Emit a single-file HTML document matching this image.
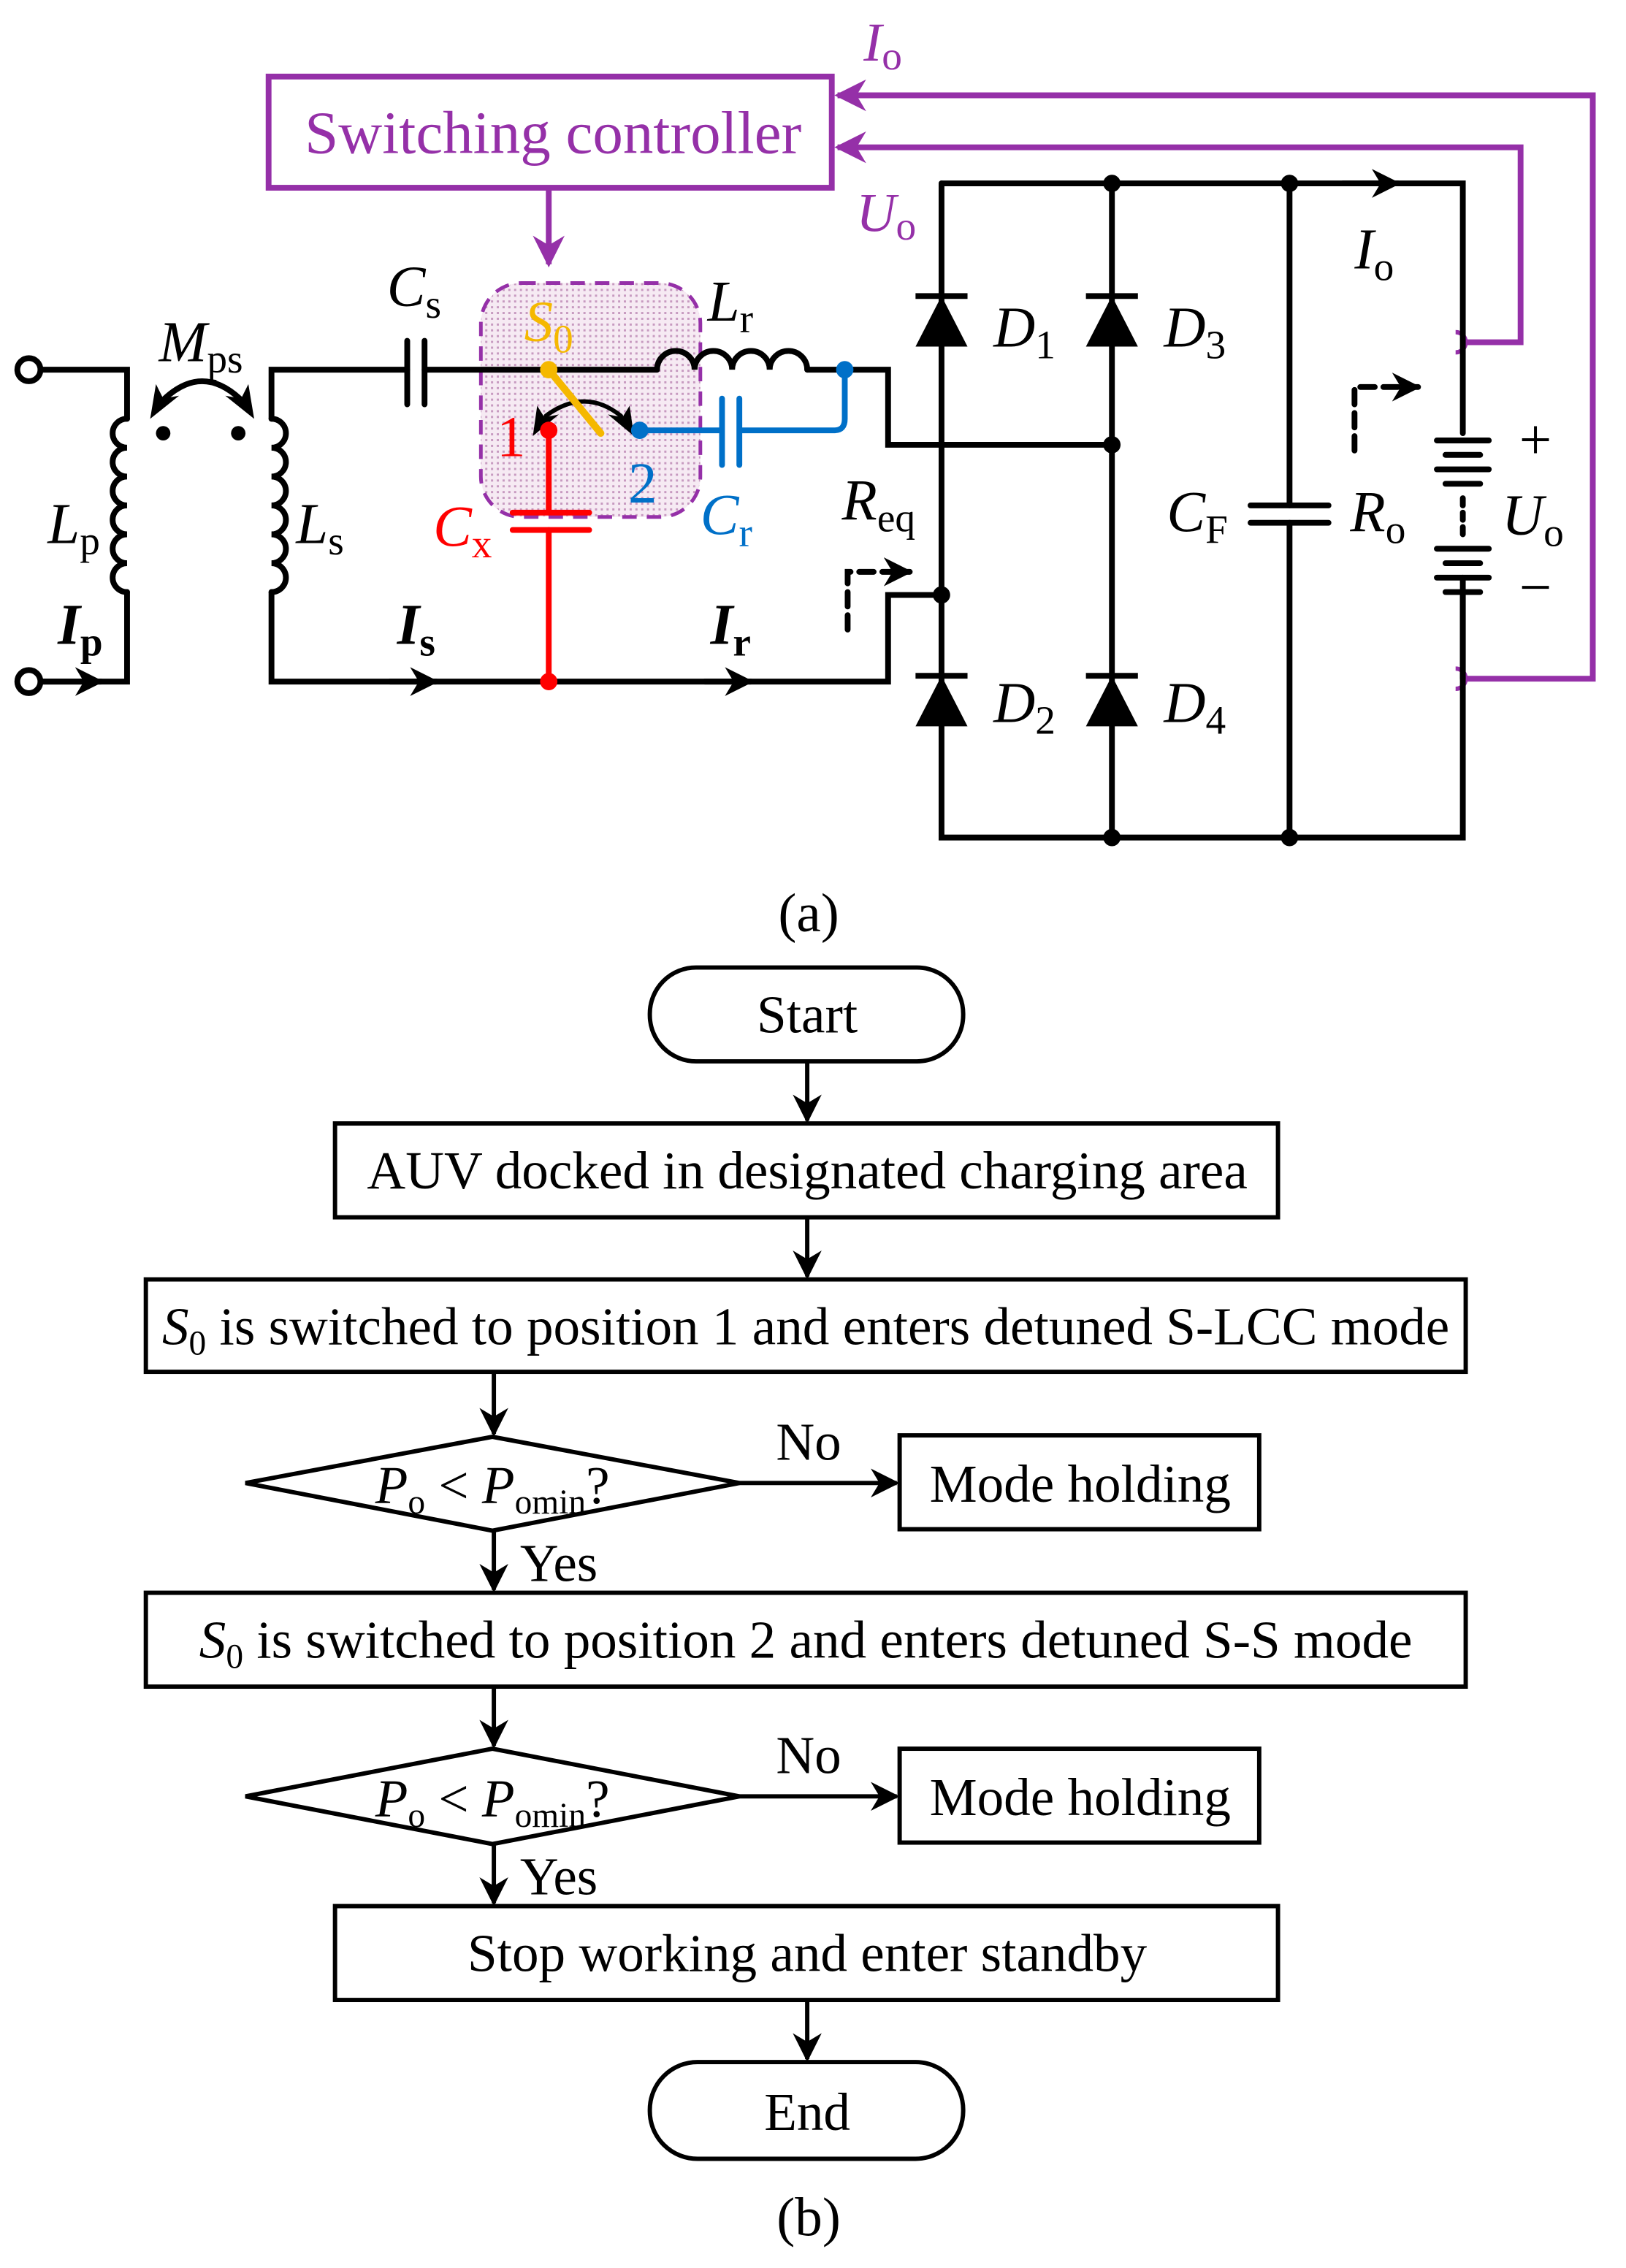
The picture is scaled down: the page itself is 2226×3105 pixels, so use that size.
<!DOCTYPE html>
<html><head><meta charset="utf-8"><style>
html,body{margin:0;padding:0;background:#fff;}
svg{display:block;}
text{font-family:"Liberation Serif",serif;}
</style></head><body>
<svg width="2226" height="3105" viewBox="0 0 1126 1570.6" xmlns="http://www.w3.org/2000/svg">
<defs>
<marker id="ab" viewBox="0 0 10 10" refX="9" refY="5" markerWidth="20" markerHeight="20" orient="auto" markerUnits="userSpaceOnUse"><path d="M0,0 L10,5 L0,10 L3,5z" fill="#000"/></marker>
<marker id="ap" viewBox="0 0 10 10" refX="9" refY="5" markerWidth="22" markerHeight="22" orient="auto" markerUnits="userSpaceOnUse"><path d="M0,0 L10,5 L0,10 L3,5z" fill="#9530A8"/></marker>
<pattern id="dots" width="4" height="4" patternUnits="userSpaceOnUse"><rect width="4" height="4" fill="#f6eaf3"/><rect width="1.5" height="1.5" fill="#c79ac0"/></pattern>
</defs>

<!-- ===== (a) circuit ===== -->
<g stroke="#9530A8" stroke-width="4" fill="none">
<rect x="186" y="53" width="390" height="77" fill="#fff"/>
<path d="M1015,470 L1103,470 L1103,66 L580,66" marker-end="url(#ap)"/>
<path d="M1015,237 L1053,237 L1053,102 L580,102" marker-end="url(#ap)"/>
<path d="M380,130 L380,183" marker-end="url(#ap)"/>
<path d="M1008,230 a7,7 0 0 1 0,14 M1008,463 a7,7 0 0 1 0,14" stroke-width="3"/>
</g>
<rect x="333" y="196" width="152" height="162" rx="28" fill="url(#dots)" stroke="#9530A8" stroke-width="2.5" stroke-dasharray="10,7"/>
<text x="383" y="106" font-size="42" fill="#9530A8" text-anchor="middle">Switching controller</text>
<text x="598" y="42" font-size="38" fill="#9530A8" font-style="italic">I<tspan font-size="28" font-style="normal" dy="6">o</tspan></text>
<text x="593" y="160" font-size="38" fill="#9530A8" font-style="italic">U<tspan font-size="28" font-style="normal" dy="6">o</tspan></text>

<g stroke="#000" stroke-width="4" fill="none" stroke-linecap="round">
<path d="M28,256 L88,256 L88,290"/>
<path d="M88,290 a10,10 0 0 0 0,20 a10,10 0 0 0 0,20 a10,10 0 0 0 0,20 a10,10 0 0 0 0,20 a10,10 0 0 0 0,20 a10,10 0 0 0 0,20"/>
<path d="M88,410 L88,472 L28,472"/>
<path d="M282,256 L188,256 L188,290"/>
<path d="M188,290 a10,10 0 0 1 0,20 a10,10 0 0 1 0,20 a10,10 0 0 1 0,20 a10,10 0 0 1 0,20 a10,10 0 0 1 0,20 a10,10 0 0 1 0,20"/>
<path d="M188,410 L188,472 L615,472 L615,412 L652,412"/>
<path d="M282,236 L282,280 M294,236 L294,280"/>
<path d="M294,256 L455,256"/>
<path d="M455,256 a13,13 0 0 1 26,0 a13,13 0 0 1 26,0 a13,13 0 0 1 26,0 a13,13 0 0 1 26,0"/>
<path d="M559,256 L615,256 L615,308 L770,308"/>
<!-- coupling arc -->
<path d="M114,276 Q140,252 166,276"/>
<!-- switch arc -->
<path d="M378,288 Q405,268 430,288" stroke-width="3"/>
<!-- bridge -->
<path d="M652,127 L1013,127 L1013,300"/>
<path d="M652,127 L652,580 L1013,580 L1013,400"/>
<path d="M770,127 L770,580 M893,127 L893,350 M893,362 L893,580"/>
<path d="M866,350 L920,350 M866,362 L920,362"/>
<path d="M995,305 L1031,305 M1001,315 L1025,315 M995,325 L1031,325 M1001,335 L1025,335 M995,380 L1031,380 M1001,390 L1025,390 M995,400 L1031,400 M1001,410 L1025,410"/>
<path d="M1013,345 L1013,370" stroke-dasharray="5,5"/>
<path d="M1013,410 L1013,470"/>
<path d="M587,436 L587,396 L630,396" stroke-dasharray="10,6" marker-end="url(#ab)"/>
<path d="M938,312 L938,268 L982,268" stroke-dasharray="10,6" marker-end="url(#ab)"/>
<path d="M30,472 L70,472" marker-end="url(#ab)"/>
<path d="M270,472 L302,472" marker-end="url(#ab)"/>
<path d="M488,472 L520,472" marker-end="url(#ab)"/>
<path d="M930,127 L968,127" marker-end="url(#ab)"/>
</g>
<!-- arc arrowheads -->
<g fill="#000">
<path d="M104,290 L108,266 L113,276 L124,274z"/>
<path d="M176,290 L172,266 L167,276 L156,274z"/>
<path d="M369,302 L372,281 L377,289 L387,287z"/>
<path d="M439,302 L436,281 L431,289 L421,287z"/>
</g>
<circle cx="20" cy="256" r="8" fill="#fff" stroke="#000" stroke-width="4"/>
<circle cx="20" cy="472" r="8" fill="#fff" stroke="#000" stroke-width="4"/>
<g fill="#000">
<circle cx="113" cy="300" r="5"/><circle cx="165" cy="300" r="5"/>
<circle cx="770" cy="127" r="6"/><circle cx="893" cy="127" r="6"/>
<circle cx="770" cy="580" r="6"/><circle cx="893" cy="580" r="6"/>
<circle cx="770" cy="308" r="6"/><circle cx="652" cy="412" r="6"/>
<path d="M634,240 L670,240 L652,205z"/><path d="M634,205 L670,205" stroke="#000" stroke-width="4"/>
<path d="M752,240 L788,240 L770,205z"/><path d="M752,205 L788,205" stroke="#000" stroke-width="4"/>
<path d="M634,503 L670,503 L652,468z"/><path d="M634,468 L670,468" stroke="#000" stroke-width="4"/>
<path d="M752,503 L788,503 L770,468z"/><path d="M752,468 L788,468" stroke="#000" stroke-width="4"/>
</g>
<g stroke-width="4" fill="none" stroke-linecap="round">
<path d="M380,298 L380,355 M380,367 L380,472" stroke="#f00"/>
<path d="M355,355 L408,355 M355,367 L408,367" stroke="#f00"/>
<path d="M443,298 L500,298 M512,298 L578,298 Q585,298 585,290 L585,256 M500,276 L500,322 M512,276 L512,322" stroke="#0070C8"/>
<path d="M380,256 L416,300" stroke="#F5B800" stroke-width="5"/>
</g>
<circle cx="380" cy="298" r="6" fill="#f00"/><circle cx="380" cy="472" r="6" fill="#f00"/>
<circle cx="443" cy="298" r="6" fill="#0070C8"/><circle cx="585" cy="256" r="6" fill="#0070C8"/>
<circle cx="380" cy="256" r="6" fill="#F5B800"/>

<g font-size="40" font-style="italic">
<text x="110" y="250">M<tspan font-size="28" font-style="normal" dy="8">ps</tspan></text>
<text x="268" y="212">C<tspan font-size="28" font-style="normal" dy="8">s</tspan></text>
<text x="363" y="236" fill="#F5B800">S<tspan font-size="28" font-style="normal" dy="8">0</tspan></text>
<text x="490" y="222">L<tspan font-size="28" font-style="normal" dy="8">r</tspan></text>
<text x="344" y="316" fill="#f00" font-style="normal">1</text>
<text x="435" y="348" fill="#0070C8" font-style="normal">2</text>
<text x="300" y="378" fill="#f00">C<tspan font-size="28" font-style="normal" dy="8">x</tspan></text>
<text x="485" y="370" fill="#0070C8">C<tspan font-size="28" font-style="normal" dy="8">r</tspan></text>
<text x="33" y="376">L<tspan font-size="28" font-style="normal" dy="8">p</tspan></text>
<text x="205" y="376">L<tspan font-size="28" font-style="normal" dy="8">s</tspan></text>
<text x="40" y="446" font-weight="bold">I<tspan font-size="28" font-style="normal" dy="8">p</tspan></text>
<text x="275" y="446" font-weight="bold">I<tspan font-size="28" font-style="normal" dy="8">s</tspan></text>
<text x="492" y="446" font-weight="bold">I<tspan font-size="28" font-style="normal" dy="8">r</tspan></text>
<text x="583" y="360">R<tspan font-size="28" font-style="normal" dy="8">eq</tspan></text>
<text x="688" y="240">D<tspan font-size="28" font-style="normal" dy="8">1</tspan></text>
<text x="806" y="240">D<tspan font-size="28" font-style="normal" dy="8">3</tspan></text>
<text x="688" y="500">D<tspan font-size="28" font-style="normal" dy="8">2</tspan></text>
<text x="806" y="500">D<tspan font-size="28" font-style="normal" dy="8">4</tspan></text>
<text x="808" y="368">C<tspan font-size="28" font-style="normal" dy="8">F</tspan></text>
<text x="935" y="368">R<tspan font-size="28" font-style="normal" dy="8">o</tspan></text>
<text x="1040" y="370">U<tspan font-size="28" font-style="normal" dy="8">o</tspan></text>
<text x="938" y="186">I<tspan font-size="28" font-style="normal" dy="8">o</tspan></text>
<text x="1052" y="318" font-style="normal">+</text>
<text x="1052" y="420" font-style="normal">−</text>
</g>
<text x="560" y="645" font-size="38" text-anchor="middle">(a)</text>

<!-- ===== (b) flowchart ===== -->
<g stroke="#000" stroke-width="3" fill="#fff">
<rect x="450" y="670" width="217" height="65" rx="32"/>
<rect x="232" y="778" width="653" height="65"/>
<rect x="101" y="886" width="914" height="64"/>
<path d="M170,1027 L341,995 L512,1027 L341,1060z"/>
<rect x="623" y="994" width="249" height="65"/>
<rect x="101" y="1103" width="914" height="65"/>
<path d="M170,1244 L341,1211 L512,1244 L341,1277z"/>
<rect x="623" y="1211" width="249" height="65"/>
<rect x="232" y="1320" width="653" height="65"/>
<rect x="450" y="1428" width="217" height="67" rx="33"/>
</g>
<g stroke="#000" stroke-width="3" fill="none">
<path d="M559,735 L559,776" marker-end="url(#ab)"/>
<path d="M559,843 L559,884" marker-end="url(#ab)"/>
<path d="M342,950 L342,993" marker-end="url(#ab)"/>
<path d="M512,1027 L621,1027" marker-end="url(#ab)"/>
<path d="M342,1060 L342,1101" marker-end="url(#ab)"/>
<path d="M342,1168 L342,1209" marker-end="url(#ab)"/>
<path d="M512,1244 L621,1244" marker-end="url(#ab)"/>
<path d="M342,1277 L342,1318" marker-end="url(#ab)"/>
<path d="M559,1385 L559,1426" marker-end="url(#ab)"/>
</g>
<g font-size="37" text-anchor="middle">
<text x="559" y="715">Start</text>
<text x="559" y="823">AUV docked in designated charging area</text>
<text x="558" y="931"><tspan font-style="italic">S</tspan><tspan font-size="24" dy="7">0</tspan><tspan dy="-7"> is switched to position 1 and enters detuned S-LCC mode</tspan></text>
<text x="341" y="1041"><tspan font-style="italic">P</tspan><tspan font-size="24" dy="7">o</tspan><tspan dy="-7"> &lt; </tspan><tspan font-style="italic">P</tspan><tspan font-size="24" dy="7">omin</tspan><tspan dy="-7">?</tspan></text>
<text x="560" y="1011">No</text>
<text x="748" y="1040">Mode holding</text>
<text x="387" y="1095">Yes</text>
<text x="558" y="1148"><tspan font-style="italic">S</tspan><tspan font-size="24" dy="7">0</tspan><tspan dy="-7"> is switched to position 2 and enters detuned S-S mode</tspan></text>
<text x="341" y="1258"><tspan font-style="italic">P</tspan><tspan font-size="24" dy="7">o</tspan><tspan dy="-7"> &lt; </tspan><tspan font-style="italic">P</tspan><tspan font-size="24" dy="7">omin</tspan><tspan dy="-7">?</tspan></text>
<text x="560" y="1228">No</text>
<text x="748" y="1257">Mode holding</text>
<text x="387" y="1312">Yes</text>
<text x="559" y="1365">Stop working and enter standby</text>
<text x="559" y="1475">End</text>
<text x="560" y="1548" font-size="38">(b)</text>
</g>
</svg>
</body></html>
